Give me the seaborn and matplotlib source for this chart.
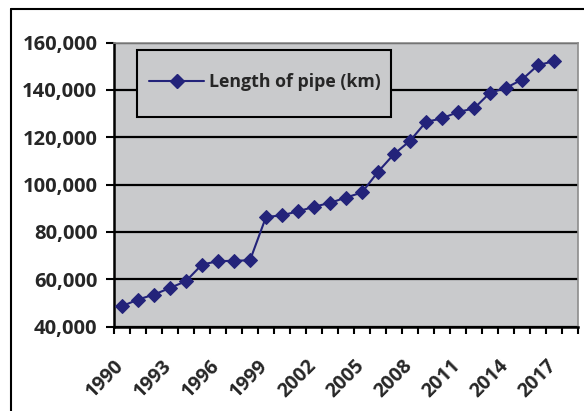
import matplotlib
matplotlib.use('Agg')
import matplotlib.pyplot as plt
import matplotlib.ticker as mticker
from matplotlib.patches import Rectangle
from matplotlib.lines import Line2D
from matplotlib.transforms import ScaledTranslation
import pandas as pd
import seaborn as sns

# Data
years = list(range(1990, 2018))
pipe_km = [48600, 51400, 53500, 56300, 59200, 66200, 67600, 67800, 68000, 86300,
           87000, 88700, 90600, 92300, 94500, 96700, 105400, 112900, 118500, 126500,
           128000, 130700, 132200, 138800, 140900, 144400, 150500, 152200]
categories = list(range(1990, 2019))  # one empty category at the end
tick_years = categories[::3]
y_ticks = [40000, 60000, 80000, 100000, 120000, 140000, 160000]

df = pd.DataFrame({'pos': range(len(years)), 'year': years, 'km': pipe_km})

sns.set_style('white')
plt.rcParams['font.family'] = ['Open Sans', 'DejaVu Sans']
plt.rcParams['font.weight'] = 'bold'

bg = '#c9cacc'
navy = '#23237a'
txt = '#262626'

fig = plt.figure(figsize=(5.84, 4.11), dpi=100)
fig.patch.set_facecolor('white')
ax = fig.add_axes([114 / 584, 1 - 326.5 / 411, 464 / 584, (326.5 - 42.7) / 411])
ax.set_facecolor(bg)

sns.lineplot(data=df, x='pos', y='km', ax=ax, color=navy, linewidth=1.5,
             marker='D', markersize=6.8, markeredgecolor=navy, zorder=3, legend=False)

ax.set_xlim(-0.5, len(categories) - 0.5)
ax.set_ylim(40000, 160000)
ax.set_yticks(y_ticks)
ax.yaxis.set_major_formatter(mticker.FuncFormatter(lambda v, p: f'{int(v):,}'))

# category ticks at boundaries, labels every third year
ax.set_xticks([categories.index(y) for y in tick_years])
ax.set_xticklabels([str(y) for y in tick_years])
ax.set_xticks([i - 0.5 for i in range(len(categories) + 1)], minor=True)
ax.tick_params(axis='x', which='major', length=0, pad=21, labelsize=14, labelcolor=txt)
ax.tick_params(axis='x', which='minor', length=5, width=1.5, color='black', direction='out', bottom=True)
ax.tick_params(axis='y', length=6, width=1.5, color='black', direction='out', left=True,
               pad=6, labelsize=14.5, labelcolor=txt)
for lab in ax.get_xticklabels():
    lab.set_rotation(45)
    lab.set_ha('right')
    lab.set_va('top')
    lab.set_rotation_mode('anchor')
    lab.set_transform(lab.get_transform() + ScaledTranslation(-8 / 100, 0, fig.dpi_scale_trans))

ax.yaxis.grid(True, color='black', linewidth=1.6, zorder=1)
ax.set_axisbelow(True)
ax.set_xlabel('')
ax.set_ylabel('')

for side in ['left', 'bottom']:
    ax.spines[side].set_color('black')
    ax.spines[side].set_linewidth(1.8)
for side in ['top', 'right']:
    ax.spines[side].set_color('#8c8c8c')
    ax.spines[side].set_linewidth(1.2)

# legend box
x0 = (137.3 - 114) / 464
x1 = (390.7 - 114) / 464
y0 = (326.5 - 116.7) / 283.8
y1 = (326.5 - 50) / 283.8
ax.add_patch(Rectangle((x0, y0), x1 - x0, y1 - y0, transform=ax.transAxes,
                       facecolor=bg, edgecolor='black', linewidth=1.5, zorder=2))
handle = Line2D([], [], color=navy, linewidth=1.5, marker='D', markersize=6.8)
ax.legend([handle], ['Length of pipe (km)'], loc='center left',
          bbox_to_anchor=((149 - 114) / 464, (326.5 - 82.5) / 283.8),
          frameon=False, borderpad=0, borderaxespad=0, handlelength=3.1,
          handletextpad=0.25, prop={'size': 12.8, 'weight': 'bold'}, labelcolor=txt)

# outer chart border (left and top visible)
fig.add_artist(Line2D([10.5 / 584, 10.5 / 584], [0, 1 - 9.5 / 411], color='black', linewidth=1.5))
fig.add_artist(Line2D([10.5 / 584, 1], [1 - 9.5 / 411, 1 - 9.5 / 411], color='black', linewidth=1.5))

fig.savefig('out.png', dpi=100)
